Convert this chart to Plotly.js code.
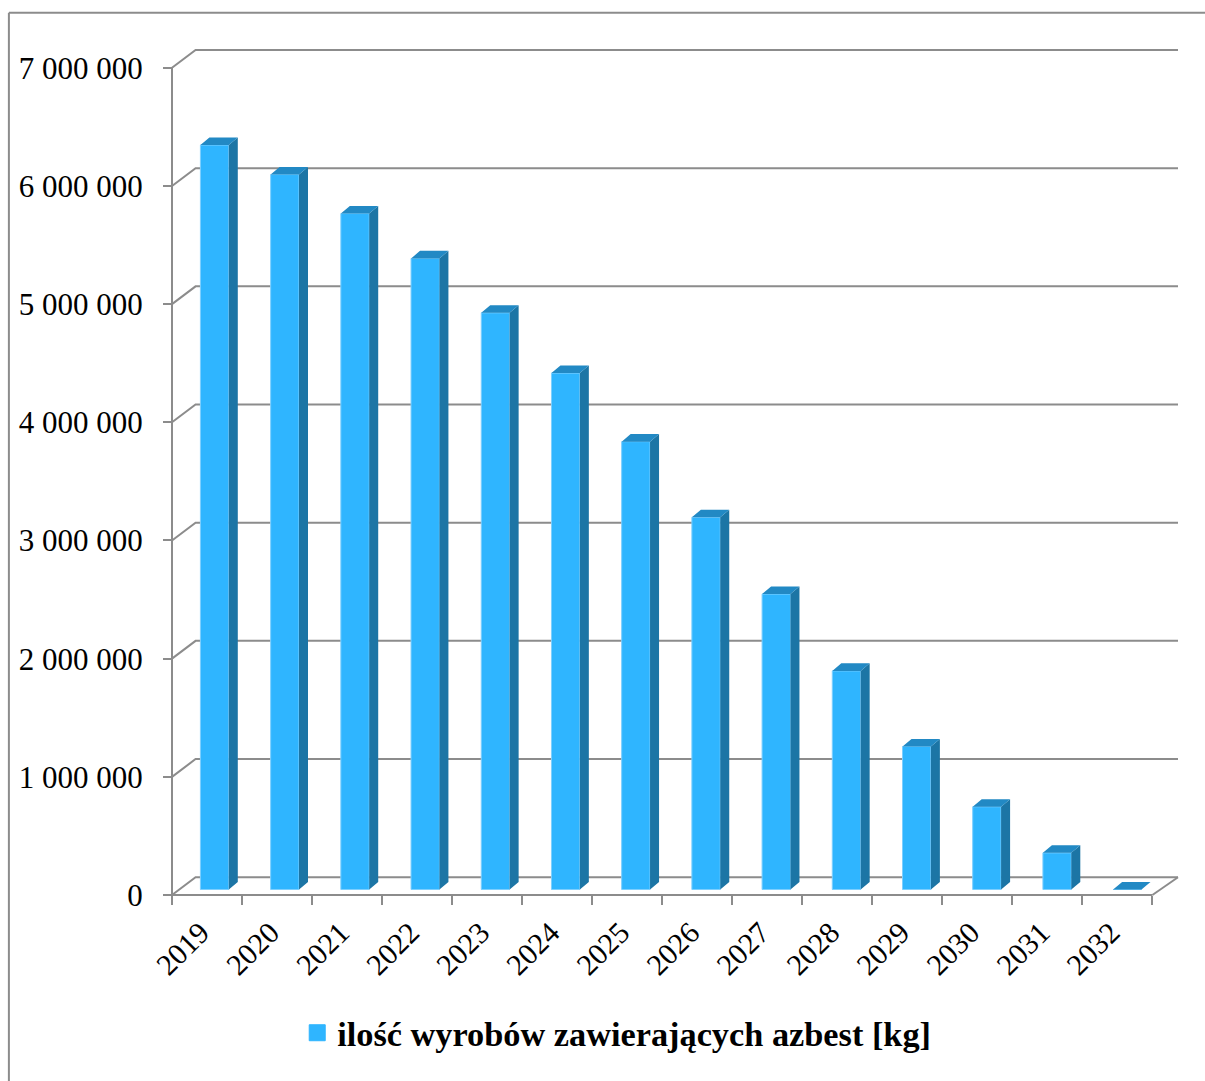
<!DOCTYPE html>
<html><head><meta charset="utf-8">
<script src="https://cdn.plot.ly/plotly-3.0.1.min.js"></script>
<style>html,body{margin:0;padding:0;background:#fff;overflow:hidden}</style>
</head><body><div id="chart" style="width:1205px;height:1081px"></div>
<script>
const years = ['2019','2020','2021','2022','2023','2024','2025','2026','2027','2028','2029','2030','2031','2032'];
const amounts = [6300000,6050000,5720000,5340000,4880000,4370000,3790000,3150000,2500000,1850000,1210000,700000,310000,0];
const yTicks = [0,1000000,2000000,3000000,4000000,5000000,6000000,7000000];
const seriesName = 'ilość wyrobów zawierających azbest [kg]';

const W=1205,H=1081,L=171.7,R=1152.7,T=68,B=895.5,PAD=3;
const pxX=(R-L)/years.length, pxY=(B-T)/7000000;
const GRID='#8c8c8c', FRONT='#2fb5ff', SIDE='#1c75a5', TOP='#2289c4', EDGE='#7dcfff';
const FONT='"Liberation Serif", serif';
const wallX=25.6/pxX, wallXLeft=23.6/pxX, wallY=17.8/pxY;   // wall offset, in axis units
const barW=28.4/pxX, barShift=7.6/pxX, barStep=70.25/pxX;
const barDX=9/pxX, barDY=7.6/pxY, barBase=5.5/pxY;
const labelShift=6.5/pxX;

const x0=-0.5, x1=years.length-0.5;
const plotL=L-PAD, plotR=L+(x1+wallX-x0)*pxX+PAD, plotT=T-wallY*pxY-PAD, plotB=B+PAD;
const xRange=[x0-PAD/pxX, x1+wallX+PAD/pxX], yRange=[-PAD/pxY, 7000000+wallY+PAD/pxY];

// frame: axes, back-wall gridlines, floor edge
const gx=[x0,x1,null,x0,x0,null],gy=[0,0,null,0,7000000,null];
yTicks.forEach(v=>{gx.push(x0,x0+wallXLeft,x1+wallX,null);gy.push(v,v+wallY,v+wallY,null);});
gx.push(x1,x1+wallX,null);gy.push(0,wallY,null);

// side and top faces derived from the data
const idx=years.map((_,i)=>i);
const centers=idx.map(i=>i*barStep+barShift);
const sx=[],sy=[],tx=[],ty=[];
idx.forEach(i=>{
  const l=centers[i]-barW/2,r=centers[i]+barW/2,top=amounts[i]+barBase;
  sx.push(r,r+barDX,r+barDX,r,r,null);
  sy.push(barBase,barBase+barDY,top+barDY,top,barBase,null);
  tx.push(l,r,r+barDX,l+barDX,l,null);
  ty.push(top,top,top+barDY,top+barDY,top,null);
});

const data=[
 {type:'scatter',mode:'lines',x:gx,y:gy,xaxis:'x',yaxis:'y',showlegend:false,hoverinfo:'skip',
  line:{color:GRID,width:2}},
 {type:'bar',x:centers,y:amounts,base:barBase,width:barW,xaxis:'x2',yaxis:'y',showlegend:false,
  marker:{color:FRONT,line:{width:1,color:EDGE}},name:seriesName},
 {type:'scatter',mode:'lines',x:sx,y:sy,fill:'toself',fillcolor:SIDE,line:{width:0,color:SIDE},xaxis:'x2',yaxis:'y',
  showlegend:false,hoverinfo:'skip'},
 {type:'scatter',mode:'lines',x:tx,y:ty,fill:'toself',fillcolor:TOP,line:{width:0,color:TOP},xaxis:'x2',yaxis:'y',
  showlegend:false,hoverinfo:'skip'},
 {type:'scatter',mode:'markers',x:[-50],y:[0],xaxis:'x2',yaxis:'y',name:seriesName,showlegend:true,
  marker:{symbol:'square',size:16,color:FRONT,line:{width:1,color:FRONT}}}
];
const fx=p=>(p-plotL)/(plotR-plotL), fy=p=>(plotB-p)/(plotB-plotT);
const layout={
 width:W,height:H,margin:{l:plotL,r:W-plotR,t:plotT,b:H-plotB,pad:0,autoexpand:false},
 paper_bgcolor:'#fff',plot_bgcolor:'rgba(0,0,0,0)',separators:', ',bargap:0,
 font:{family:FONT,color:'#000'},
 xaxis:{type:'linear',range:xRange,anchor:'free',position:fy(B),tickmode:'array',tickvals:years.concat('').map((_,i)=>i-0.5),showticklabels:false,
   ticks:'outside',ticklen:9,tickwidth:2,tickcolor:GRID,showgrid:false,zeroline:false,showline:false},
 xaxis2:{type:'linear',overlaying:'x',anchor:'free',position:fy(B),side:'bottom',range:xRange,tickmode:'array',tickvals:idx.map(i=>i-labelShift),ticktext:years,tickangle:-45,
   ticks:'',showgrid:false,zeroline:false,showline:false,ticklabelstandoff:13,tickfont:{size:30,family:FONT,color:'#000'}},
 yaxis:{type:'linear',range:yRange,anchor:'free',position:fx(L),tickmode:'array',tickvals:yTicks,tickformat:',d',ticks:'outside',ticklen:9,tickwidth:2,tickcolor:GRID,
   showgrid:false,zeroline:false,showline:false,ticklabelstandoff:14,tickfont:{size:31,family:FONT,color:'#000'}},
 legend:{orientation:'h',x:fx(297),xanchor:'left',y:fy(1033.5),yanchor:'middle',itemsizing:'trace',itemclick:false,itemdoubleclick:false,
   bgcolor:'rgba(0,0,0,0)',font:{size:34.3,family:FONT,weight:'bold',color:'#000'}},
 shapes:[
  {type:'line',xref:'paper',yref:'paper',x0:fx(8.5),x1:fx(8.5),y0:fy(13),y1:fy(H+2),line:{color:GRID,width:2}},
  {type:'line',xref:'paper',yref:'paper',x0:fx(8.5),x1:fx(W+2),y0:fy(13),y1:fy(13),line:{color:GRID,width:2}}
 ]
};
Plotly.newPlot('chart',data,layout,{displayModeBar:false,staticPlot:true});
</script></body></html>
